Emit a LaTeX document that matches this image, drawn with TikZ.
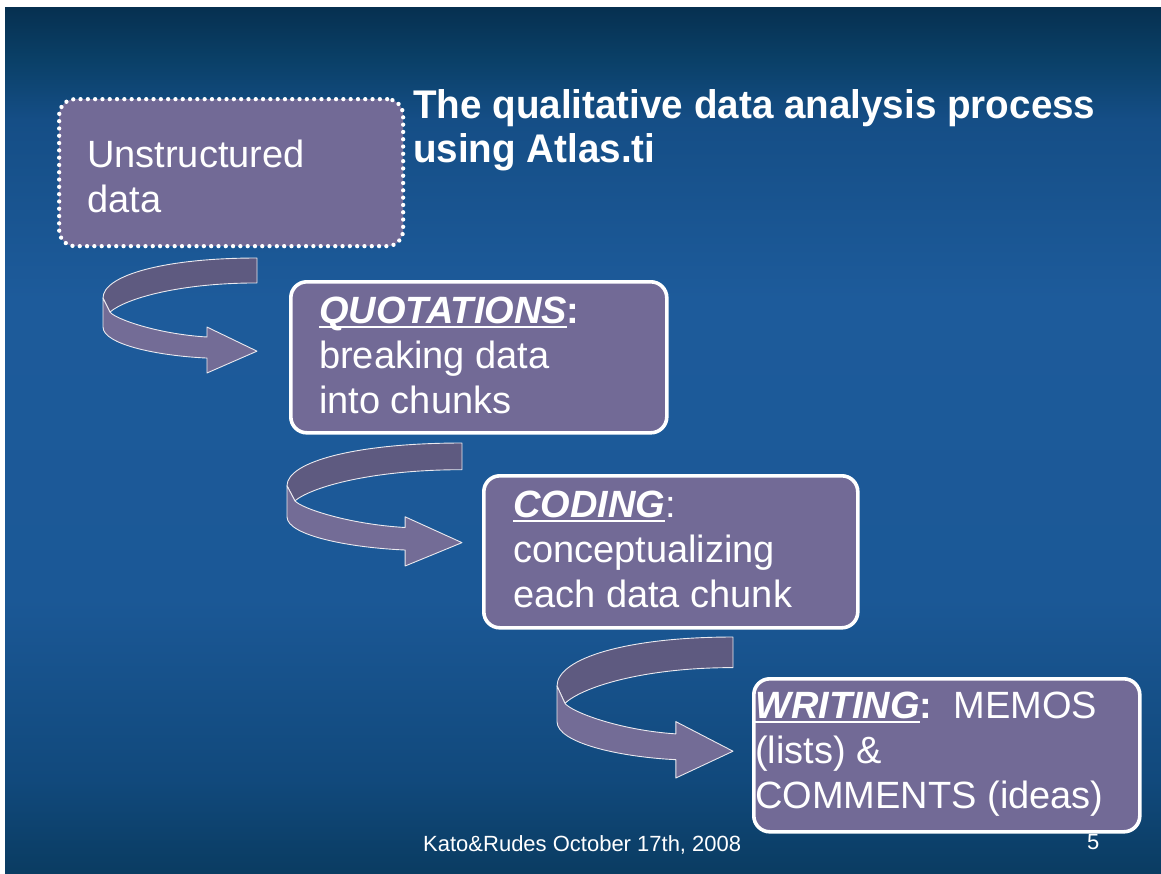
\documentclass[tikz,border=0pt]{standalone}
\usepackage{fontspec}
\setmainfont{Liberation Sans}
\newfontfamily\titlefont[FakeStretch=0.965]{Liberation Sans Bold}
\definecolor{bgA}{HTML}{0A3C62}
\definecolor{bgB}{HTML}{11497C}
\definecolor{bgC}{HTML}{1B5896}
\definecolor{bgD}{HTML}{1D5B9B}
\definecolor{bgE}{HTML}{154E86}
\definecolor{bgF}{HTML}{0A4068}
\definecolor{bgG}{HTML}{063050}
\definecolor{boxfill}{HTML}{726A96}
\definecolor{arrowdark}{HTML}{5E5A80}
\definecolor{arrowlight}{HTML}{736C96}
\pgfdeclareverticalshading{bgshade}{100bp}{color(0bp)=(bgA); color(25bp)=(bgA); color(30.4bp)=(bgB); color(40.8bp)=(bgC); color(58.1bp)=(bgD); color(68.5bp)=(bgE); color(71.9bp)=(bgF); color(75bp)=(bgG); color(100bp)=(bgG)}
\newcommand\uln[1]{\leavevmode\setbox0\hbox{#1}\rlap{\vrule height -3.2pt depth 4.6pt width \wd0}\box0}
\newcommand\curlarrow[5]{%
  \begin{scope}[shift={(#2,#3)},xscale=#4,yscale=#5]
    \coordinate (#1) at (0,0);
    \filldraw[arrowband, fill=arrowdark] (1,0) .. controls (0.4,0) and (0,0.15) .. (0,0.348) -- (0.045,0.47) .. controls (0.15,0.35) and (0.5,0.217) .. (1,0.217) -- cycle;
    \filldraw[arrowband, fill=arrowlight] (0,0.348) -- (0,0.6) .. controls (0,0.75) and (0.35,0.85) .. (0.675,0.87) -- (0.675,1) -- (1,0.81) -- (0.675,0.6) -- (0.675,0.687) .. controls (0.35,0.66) and (0.08,0.53) .. (0.045,0.47) -- cycle;
  \end{scope}}
\begin{document}
\begin{tikzpicture}[x=1pt,y=-1pt,
  arrowband/.style={draw=white!85!arrowlight, line width=0.9pt, line join=round},
  box/.style={rectangle, rounded corners=16pt, fill=boxfill, inner sep=0pt, anchor=north west},
  solidbox/.style={box, draw=white, line width=3.6pt},
  dotbox/.style={box, draw=white, line width=4.3pt, line cap=round, dash pattern=on 0pt off 7.3pt},
  body/.style={anchor=base west, inner sep=0pt, text=white, font=\fontsize{38}{45}\selectfont, align=left}]
\useasboundingbox (0,0) rectangle (1161,873);
\fill[white] (0,0) rectangle (1161,873);
\shade[shading=bgshade] (5,7) rectangle (1161,873);
% boxes
\node[dotbox, minimum width=344pt, minimum height=147pt] (b1) at (57,97) {};
\node[solidbox, minimum width=376pt, minimum height=151pt] (b2) at (289,280) {};
\node[solidbox, minimum width=374pt, minimum height=152pt] (b3) at (482,474) {};
\node[solidbox, minimum width=386pt, minimum height=153pt] (b4) at (752,677) {};
% arrows
\curlarrow{a1}{103}{258}{154}{115}
\curlarrow{a2}{287}{443}{175}{123}
\curlarrow{a3}{557}{637}{176}{141}
% texts (base anchor = baseline of the last line)
\node[body] (t1) at (87,212) {Unstructured\\data};
\node[body] (t2) at (319,413) {\uln{\bfseries\itshape QUOTATIONS}{\bfseries :}\\breaking data\\into chunks};
\node[body] (t3) at (513,607) {\uln{\bfseries\itshape CODING}:\\conceptualizing\\each data chunk};
\node[body] (t4) at (755,808) {\uln{\bfseries\itshape WRITING}{\bfseries :}\ \ MEMOS\\(lists) \&\\COMMENTS (ideas)};
\node[anchor=base west, inner sep=0pt, text=white, font=\titlefont\fontsize{40}{44}\selectfont, align=left] (title) at (413,162) {The qualitative data analysis process\\using Atlas.ti};
\node[anchor=base west, inner sep=0pt, text=white, font=\fontsize{22}{26}\selectfont] (foot) at (423,851) {Kato\&Rudes October 17th, 2008};
\node[anchor=base west, inner sep=0pt, text=white, font=\fontsize{22}{26}\selectfont] (page) at (1087,849) {5};
\end{tikzpicture}
\end{document}
